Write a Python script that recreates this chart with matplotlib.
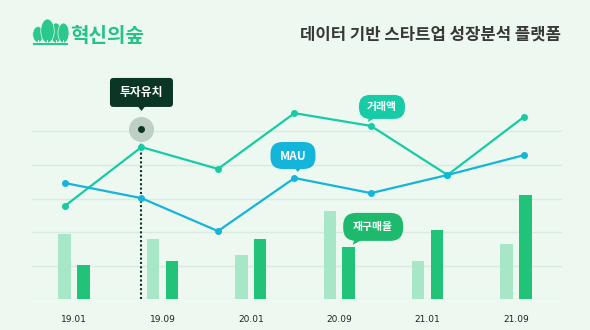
import matplotlib
matplotlib.use("Agg")
import matplotlib.pyplot as plt
import numpy as np
from matplotlib.patches import Ellipse, FancyBboxPatch, Polygon, Rectangle
from matplotlib.transforms import IdentityTransform

plt.rcParams['font.family'] = ['Noto Sans CJK KR', 'DejaVu Sans']

# data (in grid-step units)
periods = ["19.01", "19.09", "20.01", "20.09", "21.01", "21.09"]
prev_sales = [1.94, 1.79, 1.32, 2.63, 1.14, 1.65]
repurchase = [1.02, 1.14, 1.79, 1.56, 2.06, 3.10]
gmv = [2.78, 4.53, 3.88, 5.54, 5.16, 3.70, 5.43]
mau = [3.46, 3.01, 2.03, 3.61, 3.16, 3.70, 4.29]
invest_idx = 1
invest_level = 5.07

bg = "#ecf8f0"
grid_c = "#d9ebdf"
light_c = "#a8e6c8"
green_c = "#20c377"
teal_c = "#16cba6"
blue_c = "#15b5da"
dark_c = "#0b3626"

W, H = 590, 330
fig = plt.figure(figsize=(W / 100, H / 100), dpi=100)
fig.patch.set_facecolor(bg)

base_y, top_y = 299.3, 70
ax = fig.add_axes([32 / W, (H - base_y) / H, 530 / W, (base_y - top_y) / H])
ax.set_facecolor(bg)
ax.set_ylim(0, (base_y - top_y) / 33.6)
ax.set_xlim(-0.475, 5.52)

x = np.arange(len(periods))
ax.bar(x - 0.107, prev_sales, width=0.141, color=light_c, zorder=2)
ax.bar(x + 0.107, repurchase, width=0.141, color=green_c, zorder=2)

ax.set_yticks(range(6))
ax.yaxis.grid(True, color=grid_c, linewidth=1)
ax.set_axisbelow(True)
ax.set_yticklabels([])
ax.tick_params(axis="y", length=0)
ax.set_xticks(x)
ax.set_xticklabels(periods, fontsize=6.5, color="#222222", fontfamily="DejaVu Sans")
ax.tick_params(axis="x", length=0, pad=11)
for s in ax.spines.values():
    s.set_visible(False)

# lines on their own x scale
ax2 = ax.twiny()
ax2.set_xlim(-0.431, 6.497)
ax2.set_ylim(ax.get_ylim())
ax2.set_xticks([])
for s in ax2.spines.values():
    s.set_visible(False)
xl = np.arange(len(gmv))
ax2.plot(xl, gmv, color=teal_c, lw=1.6, marker="o", ms=4, zorder=4)
ax2.plot(xl, mau, color=blue_c, lw=1.6, marker="o", ms=4, zorder=4)

# investment marker
ax2.vlines(invest_idx, 0, invest_level, colors=dark_c, linestyles=(0, (1, 1.1)), lw=1.5, zorder=3)
ax2.plot(invest_idx, invest_level, "o", ms=17, color="#bfcfc6", zorder=5)
ax2.plot(invest_idx, invest_level, "o", ms=4, color=dark_c, zorder=6)


def tag(axis, px, py, text, color, dx, dy, w, h, r, size, tail):
    ox, oy = axis.transData.transform((px, py))
    cx, cy = ox + dx, oy + dy
    box = FancyBboxPatch((cx - w / 2 + r, cy - h / 2 + r), w - 2 * r, h - 2 * r,
                         boxstyle=f"round,pad={r}", fc=color, ec="none",
                         transform=IdentityTransform(), zorder=7)
    fig.patches.append(box)
    pts = [(ox + a, oy + b) for a, b in tail]
    fig.patches.append(Polygon(pts, closed=True, fc=color, ec="none",
                               transform=IdentityTransform(), zorder=7))
    fig.text(cx / W, (cy - 0.5) / H, text, ha="center", va="center", fontsize=size,
             fontweight="bold", color="white", zorder=8)


tag(ax2, invest_idx, invest_level, "투자유치", dark_c, 0, 36.5, 63, 29, 3.5, 8.5,
    [(-4, 23), (4, 23), (0, 18)])
tag(ax2, 3, mau[3], "MAU", blue_c, -1.5, 22.5, 45, 27, 12, 8.5,
    [(0, 11), (8, 11), (3, 6)])
tag(ax2, 4, gmv[4], "거래액", teal_c, 11, 19, 46, 24, 11, 7.8,
    [(-2, 9), (6, 9), (-3, 4)])
tag(ax, 3 + 0.107, repurchase[3], "재구매율", "#1dba6e", 24.5, 20, 60, 28, 13, 7.8,
    [(6, 8), (15, 8), (4, 2)])

# title
fig.text(561 / W, 1 - 35 / H, "데이터 기반 스타트업 성장분석 플랫폼", ha="right", va="center",
         fontsize=12, fontweight="bold", color="#383838")

# logo
lg = fig.add_axes([0, 0, 1, 1], zorder=-1)
lg.set_xlim(0, W)
lg.set_ylim(H, 0)
lg.axis("off")
logo_c = "#2bc88c"
trees = [(38, 34.5, 10.5, 16), (56, 33, 11.5, 20), (63.5, 33, 11, 20), (47.5, 31, 13.5, 24)]
for tx, ty, tw, th in trees:
    lg.add_patch(Ellipse((tx, ty), tw, th, fc=logo_c, ec=bg, lw=0.5))
    lg.add_patch(Rectangle((tx - 0.5, ty + th / 2 - 3), 1, 4, fc=bg, ec="none"))
lg.add_patch(Rectangle((33, 43), 35, 1.8, fc=logo_c, ec="none"))
lg.text(70, 35.5, "혁신의숲", ha="left", va="center", fontsize=14.5, fontweight="bold", color="#27c386")

fig.savefig("out.png", dpi=100, facecolor=bg)
